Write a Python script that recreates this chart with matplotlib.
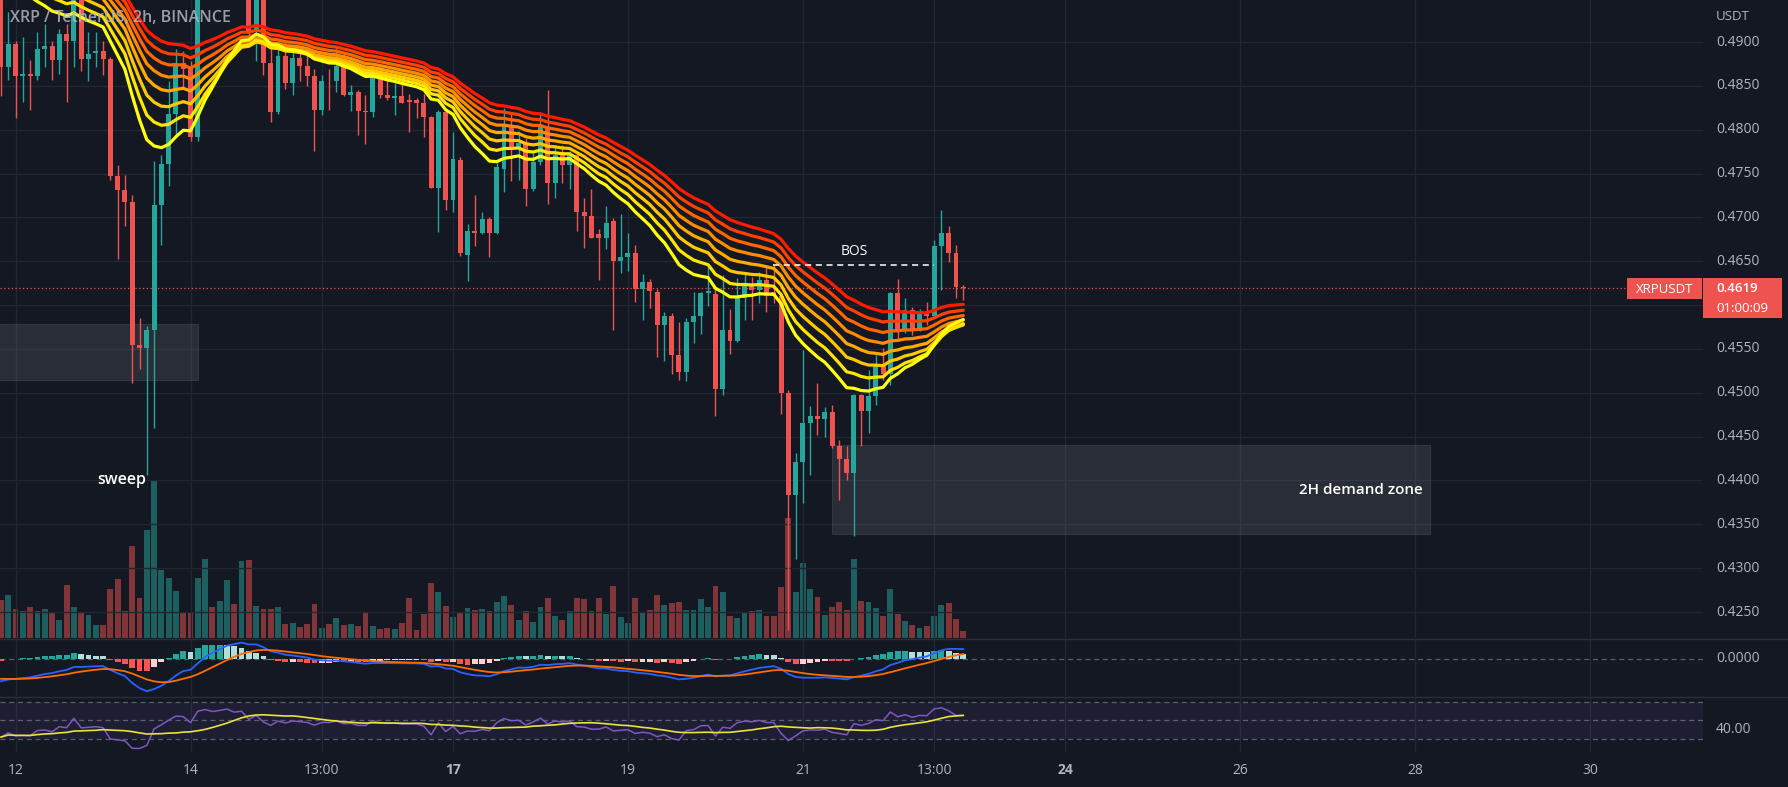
import numpy as np
import matplotlib
matplotlib.use("Agg")
import matplotlib.pyplot as plt
from matplotlib.patches import Rectangle
import matplotlib.transforms as mtrans

plt.rcParams['font.family'] = ['Open Sans', 'DejaVu Sans']

# ---------------- data (2h candles, XRP/USDT) ----------------
opens = [0.4952,0.4871,0.4898,0.4861,0.4864,0.4861,0.4892,0.4895,0.4879,0.4909,
         0.4901,0.4965,0.4881,0.4888,0.4890,0.4881,0.4747,0.4731,0.4717,0.4554,
         0.4551,0.4572,0.4714,0.4761,0.4818,0.4876,0.4869,0.4792,0.4975,0.5010,
         0.4985,0.5005,0.5030,0.4995,0.5010,0.4911,0.4970,0.4876,0.4820,0.4884,
         0.4853,0.4882,0.4873,0.4861,0.4823,0.4856,0.4855,0.4873,0.4840,0.4843,
         0.4821,0.4820,0.4862,0.4840,0.4836,0.4838,0.4834,0.4834,0.4831,0.4814,
         0.4734,0.4820,0.4720,0.4766,0.4657,0.4685,0.4682,0.4698,0.4682,0.4755,
         0.4804,0.4780,0.4785,0.4732,0.4763,0.4802,0.4739,0.4771,0.4760,0.4771,
         0.4706,0.4702,0.4681,0.4677,0.4696,0.4650,0.4655,0.4659,0.4618,0.4626,
         0.4615,0.4577,0.4588,0.4543,0.4524,0.4581,0.4588,0.4614,0.4613,0.4504,
         0.4572,0.4559,0.4608,0.4623,0.4617,0.4629,0.4615,0.4610,0.4500,0.4383,
         0.4421,0.4465,0.4474,0.4470,0.4478,0.4439,0.4425,0.4408,0.4498,0.4479,
         0.4496,0.4530,0.4522,0.4614,0.4570,0.4594,0.4571,0.4591,0.4588,0.4667,
         0.4682,0.4659,0.4621]
highs = [0.4962,0.4934,0.4901,0.4906,0.4880,0.4911,0.4920,0.4901,0.4915,0.4920,
         0.4975,0.4972,0.4911,0.4911,0.4901,0.4883,0.4760,0.4748,0.4725,0.4585,
         0.4576,0.4764,0.4771,0.4855,0.4892,0.4890,0.4878,0.4990,0.5030,0.5025,
         0.5020,0.5045,0.5040,0.5030,0.5020,0.4985,0.4980,0.4901,0.4901,0.4901,
         0.4893,0.4890,0.4887,0.4869,0.4862,0.4869,0.4894,0.4887,0.4851,0.4845,
         0.4840,0.4873,0.4873,0.4867,0.4853,0.4862,0.4841,0.4836,0.4841,0.4816,
         0.4822,0.4822,0.4797,0.4769,0.4693,0.4726,0.4706,0.4700,0.4762,0.4825,
         0.4820,0.4799,0.4790,0.4773,0.4820,0.4845,0.4783,0.4783,0.4776,0.4774,
         0.4722,0.4732,0.4687,0.4713,0.4699,0.4704,0.4682,0.4668,0.4635,0.4630,
         0.4618,0.4592,0.4591,0.4581,0.4585,0.4615,0.4615,0.4643,0.4620,0.4634,
         0.4596,0.4631,0.4636,0.4632,0.4638,0.4646,0.4647,0.4612,0.4503,0.4431,
         0.4549,0.4485,0.4511,0.4484,0.4486,0.4446,0.4439,0.4499,0.4499,0.4526,
         0.4543,0.4551,0.4615,0.4630,0.4608,0.4598,0.4595,0.4604,0.4674,0.4708,
         0.4690,0.4669,0.4623]
lows = [0.4839,0.4857,0.4813,0.4832,0.4823,0.4857,0.4871,0.4857,0.4864,0.4832,
        0.4871,0.4867,0.4855,0.4871,0.4862,0.4743,0.4653,0.4690,0.4511,0.4527,
        0.4406,0.4460,0.4669,0.4736,0.4794,0.4848,0.4787,0.4787,0.4960,0.4970,
        0.4975,0.4990,0.4985,0.4980,0.4905,0.4878,0.4862,0.4809,0.4818,0.4846,
        0.4840,0.4855,0.4850,0.4776,0.4817,0.4823,0.4843,0.4838,0.4821,0.4794,
        0.4784,0.4815,0.4836,0.4834,0.4817,0.4830,0.4797,0.4813,0.4792,0.4733,
        0.4683,0.4708,0.4706,0.4656,0.4627,0.4667,0.4681,0.4655,0.4681,0.4729,
        0.4741,0.4743,0.4713,0.4730,0.4760,0.4715,0.4722,0.4739,0.4732,0.4684,
        0.4665,0.4676,0.4629,0.4664,0.4572,0.4637,0.4639,0.4603,0.4583,0.4597,
        0.4541,0.4536,0.4521,0.4515,0.4514,0.4557,0.4567,0.4599,0.4473,0.4497,
        0.4544,0.4558,0.4583,0.4583,0.4602,0.4592,0.4602,0.4476,0.4230,0.4311,
        0.4374,0.4406,0.4452,0.4450,0.4437,0.4378,0.4401,0.4337,0.4439,0.4454,
        0.4486,0.4515,0.4509,0.4560,0.4568,0.4566,0.4570,0.4577,0.4585,0.4617,
        0.4649,0.4608,0.4606]
closes = [0.4871,0.4898,0.4861,0.4864,0.4861,0.4892,0.4895,0.4879,0.4909,0.4901,
          0.4965,0.4881,0.4886,0.4890,0.4881,0.4747,0.4731,0.4717,0.4554,0.4551,
          0.4572,0.4714,0.4761,0.4818,0.4876,0.4869,0.4792,0.4975,0.5010,0.4985,
          0.5005,0.5030,0.4995,0.5010,0.4911,0.4970,0.4876,0.4820,0.4884,0.4853,
          0.4882,0.4873,0.4861,0.4823,0.4856,0.4855,0.4873,0.4840,0.4843,0.4821,
          0.4820,0.4864,0.4840,0.4836,0.4839,0.4831,0.4832,0.4831,0.4814,0.4734,
          0.4820,0.4720,0.4767,0.4659,0.4685,0.4682,0.4698,0.4682,0.4757,0.4804,
          0.4780,0.4785,0.4732,0.4763,0.4804,0.4739,0.4771,0.4760,0.4771,0.4706,
          0.4702,0.4677,0.4677,0.4694,0.4650,0.4655,0.4659,0.4618,0.4626,0.4616,
          0.4577,0.4588,0.4543,0.4524,0.4581,0.4588,0.4614,0.4616,0.4504,0.4572,
          0.4559,0.4608,0.4623,0.4617,0.4629,0.4610,0.4610,0.4500,0.4384,0.4421,
          0.4465,0.4474,0.4470,0.4478,0.4439,0.4425,0.4408,0.4498,0.4479,0.4496,
          0.4530,0.4522,0.4614,0.4570,0.4594,0.4570,0.4591,0.4588,0.4667,0.4682,
          0.4659,0.4621,0.4619]
volumes = [3.8,4.3,2.9,2.7,3.1,2.7,2.9,2.6,1.8,5.3,3.1,2.5,2.3,1.3,1.3,4.9,5.9,2.7,9.2,4.0,
           10.8,15.7,6.8,6.0,4.7,2.5,2.5,6.0,7.9,3.1,3.7,5.8,3.4,7.7,7.8,3.2,2.9,2.9,3.1,1.4,
           1.5,1.1,1.4,3.4,1.0,1.4,2.0,1.3,1.4,1.2,2.5,1.2,0.9,1.0,0.9,1.5,4.0,0.8,2.4,5.5,
           4.6,3.2,2.1,2.5,3.0,2.8,2.9,2.7,3.6,4.2,3.3,1.8,2.7,1.6,3.1,4.0,2.2,1.8,2.7,4.0,
           3.9,2.7,4.0,2.4,5.2,2.1,1.5,4.0,2.5,2.8,4.3,3.3,3.5,3.6,2.8,2.8,3.9,3.1,5.2,4.6,
           2.2,2.0,2.5,2.7,2.8,2.2,2.2,5.1,12.0,4.6,7.5,4.9,4.1,2.3,3.1,3.6,2.8,7.9,3.7,3.6,
           3.0,2.2,4.9,2.4,1.7,1.3,1.0,1.2,2.2,3.3,3.5,1.9,0.7]

tick_pos = [2, 26, 44, 62, 86, 110, 128, 146, 170, 194, 218]
tick_labels = ['12', '14', '13:00', '17', '19', '21', '13:00', '24', '26', '28', '30']
bold_ticks = ['17', '24']
price_ticks = [0.4900, 0.4850, 0.4800, 0.4750, 0.4700, 0.4650, 0.4600, 0.4550,
               0.4500, 0.4450, 0.4400, 0.4350, 0.4300, 0.4250]
last_price = 0.4619
countdown = '01:00:09'

ribbon_lengths = [55, 50, 45, 40, 35, 30, 25, 20]
ribbon_seeds = [0.5045, 0.5041, 0.5037, 0.5033, 0.5028, 0.5022, 0.5015, 0.5005]
ribbon_colors = ['#FF1A00', '#FF4000', '#FF6600', '#FF8C00', '#FFAA00', '#FFC800', '#FFE400', '#FFFF10']
macd_seeds = (0.4895, 0.4958, -0.0052)   # ema12, ema26, signal
rsi_seeds = (0.0010, 0.0015)             # avg gain, avg loss

# ---------------- indicator computation ----------------
n = len(closes)
idx = np.arange(n)
o = np.array(opens); h = np.array(highs); l = np.array(lows); c = np.array(closes)
v = np.array(volumes)


def ema(values, length, seed):
    a = 2.0 / (length + 1)
    out = []
    prev = seed
    for x in values:
        prev = prev + a * (x - prev)
        out.append(prev)
    return np.array(out)

ribbons = [ema(c, L, s) for L, s in zip(ribbon_lengths, ribbon_seeds)]

e12 = ema(c, 12, macd_seeds[0])
e26 = ema(c, 26, macd_seeds[1])
macd = e12 - e26
signal = ema(macd, 9, macd_seeds[2])
hist = macd - signal

ag, al = rsi_seeds
prev = o[0]
rsi = []
for x in c:
    ch = x - prev
    ag = (ag * 13 + max(ch, 0)) / 14
    al = (al * 13 + max(-ch, 0)) / 14
    rsi.append(100 - 100 / (1 + ag / al))
    prev = x
rsi = np.array(rsi)
rsi_ma = np.array([rsi[max(0, i - 13):i + 1].mean() for i in range(n)])

# ---------------- figure / layout ----------------
W, H = 1788, 787
BG = '#141823'
GRID = '#222633'
TXT = '#B2B5BE'
UP = '#26A69A'
DN = '#EF5350'
fig = plt.figure(figsize=(W / 100, H / 100), dpi=100, facecolor=BG)

plot_right = 1703


def fx(px):
    return px / W


def fy(py):
    return 1 - py / H

ax = fig.add_axes([0, fy(638), fx(plot_right), (638) / H])
axm = fig.add_axes([0, fy(696), fx(plot_right), (696 - 639) / H])
axr = fig.add_axes([0, fy(752), fx(plot_right), (752 - 697) / H])

xl = (-0.137, 233.47)
for a in (ax, axm, axr):
    a.set_facecolor(BG)
    a.set_xlim(*xl)
    for s in a.spines.values():
        s.set_visible(False)
    a.set_xticks([]); a.set_yticks([])
    for t in tick_pos:
        a.axvline(t, color=GRID, lw=1.0, zorder=0)

ax.set_ylim(0.42204, 0.49479)
for p in price_ticks:
    ax.axhline(p, color=GRID, lw=1.0, zorder=0)

# volume overlay
axv = ax.twinx()
axv.set_xlim(*xl)
axv.set_ylim(0, 63.8)
axv.axis('off')
vcol = [UP if cc >= oo else DN for oo, cc in zip(o, c)]
axv.bar(idx, v, width=0.8, color=vcol, alpha=0.5, linewidth=0, zorder=1)
ax.set_zorder(axv.get_zorder() + 1)
ax.patch.set_visible(False)
fig.patch.set_facecolor(BG)

# demand zones
ax.add_patch(Rectangle((-1, 0.4515), 28.0, 0.4578 - 0.4515, facecolor='#787B86', alpha=0.22,
                       edgecolor='#9598A1', lw=0.6, zorder=1))
ax.add_patch(Rectangle((114.0, 0.4339), 82.0, 0.4440 - 0.4339, facecolor='#787B86', alpha=0.22,
                       edgecolor='#9598A1', lw=0.6, zorder=1))

# candles
col = np.where(c >= o, UP, DN)
ax.vlines(idx, l, h, colors=col, lw=1.0, zorder=3)
body_lo = np.minimum(o, c)
body_h = np.maximum(np.abs(c - o), 0.00006)
ax.bar(idx, body_h, bottom=body_lo, width=0.68, color=col, linewidth=0, zorder=3)

# ribbon
for r, cc_ in zip(ribbons, ribbon_colors):
    ax.plot(idx, r, color=cc_, lw=2.3, zorder=4, solid_capstyle='round')

# last price line
ax.axhline(last_price, color=DN, lw=0.9, ls=(0, (1, 2)), zorder=2)

# BOS
ax.hlines(0.4646, 105.9, 128, colors='white', linestyles=(0, (4, 3)), lw=1.1, zorder=5)
ax.text(117.0, 0.4661, 'BOS', color='white', fontsize=10, ha='center', va='center', zorder=6)
ax.text(16.6, 0.4400, 'sweep', color='white', fontsize=11.5, fontweight='semibold',
        ha='center', va='center', zorder=6)
ax.text(195.0, 0.43895, '2H demand zone', color='white', fontsize=11, fontweight='semibold',
        ha='right', va='center', zorder=6)

# title
fig.text(fx(10), fy(18), 'XRP / TetherUS, 2h, BINANCE', color=TXT, alpha=0.85,
         fontsize=11.5, fontweight='semibold', ha='left', va='center')

# MACD pane
axm.set_ylim(-0.0100, 0.0054)
axm.axhline(0, color='#787B86', lw=0.9, ls=(0, (4, 3)), alpha=0.7, zorder=1)
hcol = []
for i, hv in enumerate(hist):
    hp = hist[i - 1] if i > 0 else hv
    if hv >= 0:
        hcol.append('#26A69A' if hv > hp else '#B2DFDB')
    else:
        hcol.append('#FFCDD2' if hv > hp else '#FF5252')
axm.bar(idx, hist, width=0.8, color=hcol, linewidth=0, zorder=2)
axm.plot(idx, macd, color='#2962FF', lw=1.3, zorder=3)
axm.plot(idx, signal, color='#FF6D00', lw=1.3, zorder=3)

# RSI pane
axr.set_ylim(15.9, 75.4)
axr.axhspan(30, 70, color='#7E57C2', alpha=0.10, lw=0, zorder=0)
for lv in (70, 50, 30):
    axr.axhline(lv, color='#787B86', lw=0.9, ls=(0, (4, 3)), alpha=0.7, zorder=1)
axr.plot(idx, rsi, color='#7E57C2', lw=1.1, zorder=3)
axr.plot(idx, rsi_ma, color='#E9E43A', lw=1.2, zorder=3)

# pane separators
for yy in (638.5, 696.5):
    fig.add_artist(plt.Line2D([0, 1], [fy(yy), fy(yy)], color='#2A2E39', lw=1.0))

# right price scale (the label under the last-price tag is hidden, as in TradingView)
tr = mtrans.blended_transform_factory(fig.transFigure, ax.transData)
for p in price_ticks:
    if abs(p - last_price) < 0.003:
        continue
    ax.text(fx(1716), p, f'{p:.4f}', transform=tr, color=TXT, fontsize=10,
            ha='left', va='center', clip_on=False)
fig.text(fx(1716), fy(16), 'USDT', color=TXT, fontsize=9.5, ha='left', va='center')
trm = mtrans.blended_transform_factory(fig.transFigure, axm.transData)
axm.text(fx(1716), 0, '0.0000', transform=trm, color=TXT, fontsize=10, ha='left', va='center',
         clip_on=False)
trr = mtrans.blended_transform_factory(fig.transFigure, axr.transData)
axr.text(fx(1716), 40, '40.00', transform=trr, color=TXT, fontsize=10, ha='left', va='center',
         clip_on=False)

# last price labels
fig.add_artist(Rectangle((fx(1703), fy(318)), fx(79), 40 / H, transform=fig.transFigure,
                         facecolor=DN, edgecolor='none'))
fig.add_artist(Rectangle((fx(1627), fy(299)), fx(75), 21 / H, transform=fig.transFigure,
                         facecolor=DN, edgecolor='none'))
fig.text(fx(1664.5), fy(289), 'XRPUSDT', color='white', fontsize=9.5, ha='center', va='center')
fig.text(fx(1716), fy(288), f'{last_price:.4f}', color='white', fontsize=9.5,
         fontweight='semibold', ha='left', va='center')
fig.text(fx(1716), fy(308), countdown, color='white', fontsize=9.5, ha='left', va='center')

# time axis labels
trt = mtrans.blended_transform_factory(axr.transData, fig.transFigure)
for tp, tl in zip(tick_pos, tick_labels):
    axr.text(tp, fy(770), tl, transform=trt, color=TXT, fontsize=10,
             fontweight='bold' if tl in bold_ticks else 'normal',
             ha='center', va='center', clip_on=False)

fig.savefig('out.png', dpi=100, facecolor=BG)
